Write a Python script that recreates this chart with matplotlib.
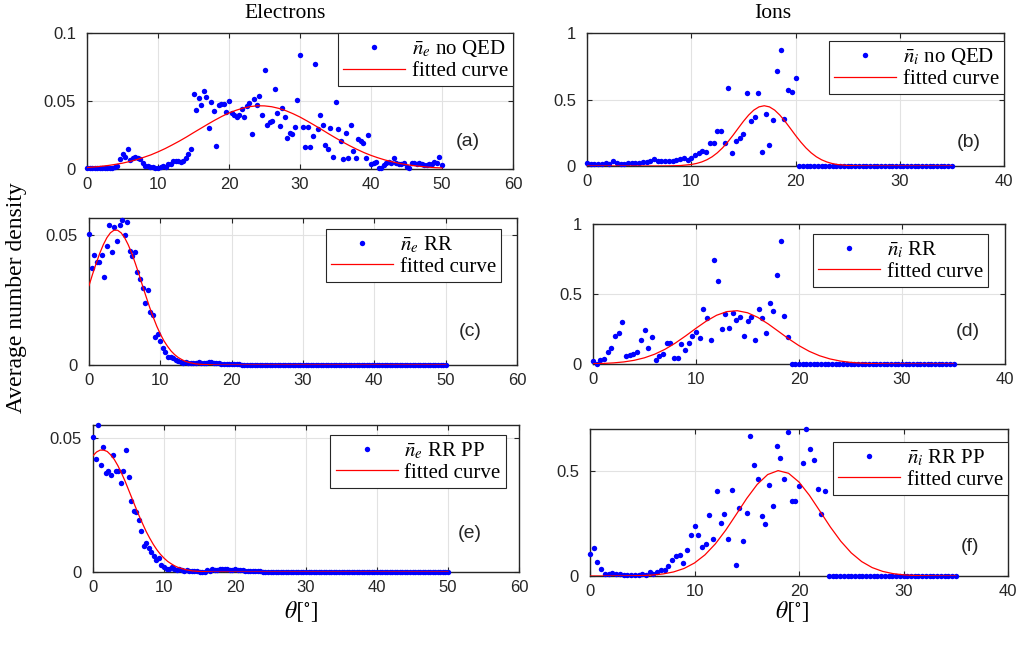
import numpy as np
import matplotlib
matplotlib.use('Agg')
import matplotlib.pyplot as plt

plt.rcParams['font.family'] = ['Liberation Sans', 'DejaVu Sans']
plt.rcParams['mathtext.fontset'] = 'stix'

# angular step of the binned data (deg)
step_e = 50 / 140
step_i = 35 / 98

# ---- electrons, no QED (a)
ne_noqed = [
    0.0008, 0.0006, 0.0005, 0.0007, 0.0006, 0.0005, 0.0008, 0.0007, 0.0008, 0.0009, 0.0008, 0.0012,
    0.0025, 0.0073, 0.0113, 0.0090, 0.0147, 0.0066, 0.0083, 0.0086, 0.0078, 0.0070,
    0.0047, 0.0022, 0.0022, 0.0012, 0.0017, 0.0005, 0.0010, 0.0017, 0.0022, 0.0017,
    0.0037, 0.0037, 0.0061, 0.0061, 0.0059, 0.0054, 0.0059, 0.0078,
    0.0108, 0.0145, 0.0549, 0.0431, 0.0522, 0.0473, 0.0571, 0.0532, 0.0304, 0.0495,
    0.0429, 0.0169, 0.0468, 0.0475, 0.0478, 0.0421, 0.0498, 0.0414, 0.0394, 0.0380,
    0.0394, 0.0439, 0.0380, 0.0463, 0.0483, 0.0257, 0.0512, 0.0470, 0.0537, 0.0397,
    0.0725, 0.0323, 0.0348, 0.0350, 0.0585, 0.0414, 0.0314, 0.0448, 0.0385, 0.0230,
    0.0267, 0.0255, 0.0311, 0.0507, 0.0840,
    0.0311, 0.0164, 0.0306, 0.0160, 0.0245, 0.0772, 0.0294, 0.0397, 0.0324, 0.0174,
    0.0145, 0.0299, 0.0088, 0.0495, 0.0292, 0.0208, 0.0071, 0.0267, 0.0083, 0.0321,
    0.0132, 0.0083, 0.0220, 0.0208, 0.0189, 0.0083, 0.0248,
    0.0037, 0.0042, 0.0055, 0.0010, 0.0005, 0.0030, 0.0042, 0.0054, 0.0042, 0.0083,
    0.0042, 0.0037, 0.0037, 0.0042, 0.0017, 0.0010, 0.0042, 0.0042, 0.0037, 0.0042,
    0.0037, 0.0033, 0.0033, 0.0037, 0.0037, 0.0054, 0.0042, 0.0086, 0.0029,
]
fit_a_x = list(range(0, 51))
fit_a_y = [
    0.0011, 0.0015, 0.0020, 0.0026, 0.0034, 0.0043, 0.0055, 0.0069, 0.0086, 0.0104,
    0.0126, 0.0150, 0.0177, 0.0205, 0.0235, 0.0267, 0.0298, 0.0329, 0.0359, 0.0387,
    0.0412, 0.0432, 0.0448, 0.0459, 0.0465, 0.0464, 0.0458, 0.0446, 0.0429, 0.0407,
    0.0382, 0.0353, 0.0323, 0.0292, 0.0260, 0.0229, 0.0199, 0.0171, 0.0145, 0.0121,
    0.0100, 0.0082, 0.0066, 0.0053, 0.0041, 0.0032, 0.0025, 0.0019, 0.0014, 0.0010,
    0.0008,
]

# ---- ions, no QED (b)
ni_noqed = [
    0.020, 0.015, 0.0125, 0.015, 0.015, 0.025, 0.0125, 0.040, 0.020, 0.015,
    0.015, 0.020, 0.020, 0.025, 0.025, 0.0325, 0.0325, 0.040, 0.050, 0.0375,
    0.0375, 0.0375, 0.035, 0.0375, 0.045, 0.050,
    0.060, 0.045, 0.0625, 0.0825, 0.100, 0.115, 0.1025, 0.175, 0.175, 0.265,
    0.265, 0.175, 0.5875, 0.0975, 0.1875, 0.2075, 0.24, 0.5525, 0.34, 0.3675,
    0.55, 0.1025, 0.3875, 0.155, 0.3425, 0.7175, 0.87, 0.35, 0.575, 0.555, 0.66,
    0, 0, 0, 0, 0, 0, 0, 0, 0, 0,
    0, 0, 0, 0, 0, 0, 0, 0, 0, 0,
    0, 0, 0, 0, 0, 0, 0, 0, 0, 0,
    0, 0, 0, 0, 0, 0, 0, 0, 0, 0,
    0, 0,
]
fit_b_x = [0, 4, 7, 8, 9, 10, 10.5, 11, 11.5, 12, 12.5, 13, 13.5, 14, 14.5, 15, 15.5, 16, 16.5,
           17, 17.5, 18, 18.5, 19, 19.5, 20, 20.5, 21, 21.5, 22, 22.5, 23, 23.5, 24,
           25, 26, 27, 30, 35]
fit_b_y = [0, 0, 0.0001, 0.001, 0.0037, 0.0114, 0.019, 0.0304, 0.0468, 0.0693, 0.0991,
           0.1363, 0.1806, 0.2304, 0.2834, 0.3356, 0.3826, 0.4203, 0.4446, 0.453, 0.4446,
           0.4203, 0.3826, 0.3356, 0.2834, 0.2304, 0.1806, 0.1363, 0.0991, 0.0693, 0.0468,
           0.0304, 0.019, 0.0114, 0.0037, 0.001, 0.0001, 0, 0]

# ---- electrons, RR (c)
ne_rr = [
    0.0503, 0.0374, 0.0423, 0.0397, 0.0395, 0.0421, 0.0340, 0.0459, 0.0538, 0.0436,
    0.0532, 0.0478, 0.0538, 0.0559, 0.0500, 0.0549, 0.0440, 0.0419, 0.0436, 0.0356,
    0.0331, 0.0297, 0.0237, 0.0290, 0.0203, 0.0192, 0.0108, 0.0119, 0.0094, 0.0064,
    0.0051, 0.0032, 0.0029, 0.0028, 0.0018, 0.0017, 0.0013, 0.0009, 0.0013, 0.0009,
    0.0008, 0.0009, 0.0006, 0.0010, 0.0006,
    0.0007, 0.0008, 0.0012, 0.0010, 0.0008, 0.0009, 0.0006, 0.0005, 0.0004, 0.0004,
    0.0003, 0.0003, 0.0002, 0.0002, 0.0002, 0.0001, 0.0001, 0.0001, 0.0001, 0.0001,
    0, 0, 0, 0, 0, 0, 0, 0, 0, 0,
    0, 0, 0, 0, 0, 0, 0, 0, 0, 0,
    0, 0, 0, 0, 0, 0, 0, 0, 0, 0,
    0, 0, 0, 0, 0, 0, 0, 0, 0, 0,
    0, 0, 0, 0, 0, 0, 0, 0, 0, 0,
    0, 0, 0, 0, 0, 0, 0, 0, 0, 0,
    0, 0, 0, 0, 0, 0, 0, 0, 0, 0,
    0, 0, 0, 0, 0, 0,
]
fit_c_x = [0, 0.5, 1, 1.5, 2, 2.5, 3, 3.5, 4, 4.5, 5, 5.5, 6, 6.5, 7, 7.5, 8, 8.5, 9, 9.5,
           10, 10.5, 11, 11.5, 12, 12.5, 13, 13.5, 14, 15, 16, 17, 18, 50]
fit_c_y = [0.0305, 0.0349, 0.0390, 0.0429, 0.0462, 0.0489, 0.0508, 0.0518, 0.0518, 0.0508,
           0.0489, 0.0462, 0.0429, 0.0390, 0.0349, 0.0305, 0.0263, 0.0222, 0.0184, 0.0149,
           0.0119, 0.0093, 0.0072, 0.0054, 0.0040, 0.0029, 0.0021, 0.0014, 0.0010, 0.0004,
           0.0002, 0.0001, 0, 0]

# ---- ions, RR (d)
ni_rr = [
    0.0214, 0.0024, 0.031, 0.038, 0.0857, 0.1167, 0.2, 0.2214, 0.2976, 0.06,
    0.0643, 0.0738, 0.0857, 0.1738, 0.2429, 0.1143, 0.1952, 0.0262, 0.0548, 0.0714,
    0.1524, 0.1524, 0.0452, 0.0452, 0.1429, 0.1, 0.1476, 0.2, 0.231, 0.1881,
    0.3929, 0.3286, 0.1714, 0.7429, 0.5952, 0.2524, 0.3571, 0.2548, 0.3619, 0.3167,
    0.3357, 0.2, 0.3048, 0.3357, 0.169, 0.3929, 0.3286, 0.2238, 0.4381, 0.381,
    0.6333, 0.8762, 0.3452, 0.1952,
    0, 0, 0, 0, 0, 0, 0, 0, 0, 0,
    0, 0, 0, 0, 0, 0, 0, 0, 0, 0,
    0, 0, 0, 0, 0, 0, 0, 0, 0, 0,
    0, 0, 0, 0, 0, 0, 0, 0, 0, 0,
    0, 0, 0, 0, 0,
]
fit_d_x = list(range(0, 36))
fit_d_y = [0.0019, 0.0040, 0.0080, 0.0149, 0.0264, 0.0443, 0.0703, 0.1055, 0.1497, 0.2009,
           0.2552, 0.3064, 0.3482, 0.3743, 0.3806, 0.3661, 0.3331, 0.2867, 0.2334, 0.1798,
           0.1310, 0.0903, 0.0589, 0.0363, 0.0212, 0.0117, 0.0061, 0.0030, 0.0014, 0.0006,
           0.0002, 0.0001, 0, 0, 0, 0]

# ---- electrons, RR + PP (e)
ne_rrpp = [
    0.0504, 0.0423, 0.0550, 0.0400, 0.0466, 0.0369, 0.0377, 0.0364, 0.0438, 0.0379,
    0.0377, 0.0333, 0.0379, 0.0456, 0.0357, 0.0264, 0.0230, 0.0224, 0.0193, 0.0155,
    0.0097, 0.0109, 0.0091, 0.0075, 0.0060, 0.0046, 0.0051, 0.0025, 0.0019, 0.0010,
    0.0010, 0.0019, 0.0010, 0.0006, 0.0010, 0.0006, 0.0004, 0.0009, 0.0002, 0.0004,
    0.0002, 0.0004, 0, 0, 0.0001, 0.0006, 0.0004, 0.0011,
    0.0008, 0.0009, 0.0011, 0.0012, 0.0010, 0.0011, 0.0009, 0.0008, 0.0010, 0.0007,
    0.0006, 0.0008, 0.0005, 0.0004, 0.0003,
    0.0002, 0.0002, 0.0002, 0.0002, 0.0001, 0.0001, 0.0001, 0.0001, 0.0001, 0.0001,
    0, 0, 0, 0, 0, 0, 0, 0, 0, 0,
    0, 0, 0, 0, 0, 0, 0, 0, 0, 0,
    0, 0, 0, 0, 0, 0, 0, 0, 0, 0,
    0, 0, 0, 0, 0, 0, 0, 0, 0, 0,
    0, 0, 0, 0, 0, 0, 0, 0, 0, 0,
    0, 0, 0, 0, 0, 0, 0, 0, 0, 0,
    0, 0, 0, 0, 0, 0, 0, 0,
]
fit_e_x = [0, 0.5, 1, 1.5, 2, 2.5, 3, 3.5, 4, 4.5, 5, 5.5, 6, 6.5, 7, 7.5, 8, 8.5, 9, 9.5,
           10, 10.5, 11, 11.5, 12, 13, 14, 15, 16, 17, 50]
fit_e_y = [0.0435, 0.0449, 0.0456, 0.0456, 0.0451, 0.0438, 0.0421, 0.0398, 0.0371, 0.0341,
           0.0308, 0.0275, 0.0242, 0.0210, 0.0180, 0.0151, 0.0126, 0.0103, 0.0083, 0.0066,
           0.0052, 0.0040, 0.0031, 0.0023, 0.0017, 0.0009, 0.0004, 0.0002, 0.0001, 0, 0]

# ---- ions, RR + PP (f)
ni_rrpp = [
    0.1048, 0.1333, 0.0651, 0.0317, 0.0111, 0.0111, 0.0127, 0.0111, 0.0095, 0.0048,
    0.0032, 0.0032, 0.0032, 0.0063, 0.0111, 0.0048, 0.0175, 0.0095, 0.0190, 0.0286,
    0.0270, 0.0492, 0.0746, 0.0937, 0.1016, 0.0635, 0.1222, 0.1968, 0.2397, 0.1937,
    0.1365, 0.1524, 0.2889, 0.1746, 0.4032, 0.2540, 0.2937, 0.1762, 0.4095, 0.0540,
    0.3238, 0.1651, 0.2984, 0.6667, 0.5286, 0.4619, 0.2873, 0.2460, 0.4349, 0.3349,
    0.6206, 0.5635, 0.4619, 0.6857, 0.3587, 0.3587, 0.4302, 0.5365, 0.7, 0.6032,
    0.551, 0.416, 0.295, 0.406,
    0, 0, 0, 0, 0, 0, 0, 0, 0, 0,
    0, 0, 0, 0, 0, 0, 0, 0, 0, 0,
    0, 0, 0, 0, 0, 0, 0, 0, 0, 0,
    0, 0, 0, 0, 0,
]
fit_f_x = list(range(0, 36))
fit_f_y = [0, 0, 0.0001, 0.0003, 0.0009, 0.0021, 0.0047, 0.0099, 0.0194, 0.0358,
           0.0620, 0.1006, 0.1532, 0.2190, 0.2937, 0.3695, 0.4361, 0.4830, 0.5018, 0.4892,
           0.4474, 0.3839, 0.3091, 0.2334, 0.1655, 0.1100, 0.0686, 0.0401, 0.0220, 0.0113,
           0.0055, 0.0025, 0.0011, 0.0004, 0.0002, 0.0001]

W, H = 1022, 645
fig = plt.figure(figsize=(W / 100, H / 100), dpi=100)

ink = '#262626'
serif = ['Liberation Serif', 'DejaVu Serif']

# panel setup: rect in pixels (left, top, right, bottom), data, fit, limits, legend anchor, label pos
panels = [
    dict(rect=(87, 33, 513, 169), y=ne_noqed, step=step_e, fx=fit_a_x, fy=fit_a_y,
         label=r'$\bar{n}_e$ no QED', xmax=60, ytop=0.1,
         yt=[0, 0.05, 0.1], ytl=['0', '0.05', '0.1'], leg=(1.0, 1.0), tag='(a)', tagpos=(0.895, 0.2)),
    dict(rect=(587, 33, 1004, 166), y=ni_noqed, step=step_i, fx=fit_b_x, fy=fit_b_y,
         label=r'$\bar{n}_i$ no QED', xmax=40, ytop=1.0,
         yt=[0, 0.5, 1], ytl=['0', '0.5', '1'], leg=(1.0, 0.94), tag='(b)', tagpos=(0.915, 0.18)),
    dict(rect=(89, 218, 517, 365), y=ne_rr, step=step_e, fx=fit_c_x, fy=fit_c_y,
         label=r'$\bar{n}_e$ RR', xmax=60, ytop=0.0565,
         yt=[0, 0.05], ytl=['0', '0.05'], leg=(0.963, 0.925), tag='(c)', tagpos=(0.89, 0.23)),
    dict(rect=(593, 224, 1005, 364), y=ni_rr, step=step_i, fx=fit_d_x, fy=fit_d_y,
         label=r'$\bar{n}_i$ RR', xmax=40, ytop=1.0,
         yt=[0, 0.5, 1], ytl=['0', '0.5', '1'], leg=(0.959, 0.929), tag='(d)', tagpos=(0.91, 0.235)),
    dict(rect=(93, 425, 519, 572), y=ne_rrpp, step=step_e, fx=fit_e_x, fy=fit_e_y,
         label=r'$\bar{n}_e$ RR PP', xmax=60, ytop=0.055,
         yt=[0, 0.05], ytl=['0', '0.05'], leg=(0.969, 0.932), tag='(e)', tagpos=(0.885, 0.265)),
    dict(rect=(590, 429, 1008, 576), y=ni_rrpp, step=step_i, fx=fit_f_x, fy=fit_f_y,
         label=r'$\bar{n}_i$ RR PP', xmax=40, ytop=0.7,
         yt=[0, 0.5], ytl=['0', '0.5'], leg=(1.0, 0.912), tag='(f)', tagpos=(0.91, 0.2)),
]

for p in panels:
    l, t, r, b = p['rect']
    ax = fig.add_axes([l / W, 1 - b / H, (r - l) / W, (b - t) / H])
    theta = np.arange(len(p['y'])) * p['step']
    ax.plot(theta, p['y'], 'o', color='blue', ms=3.9, mec='none', clip_on=False,
            zorder=3, label=p['label'])
    ax.plot(p['fx'], p['fy'], '-', color='red', lw=0.9, zorder=4, label='fitted curve')

    ax.set_xlim(0, p['xmax'])
    ax.set_ylim(0, p['ytop'])
    ax.set_xticks(np.arange(0, p['xmax'] + 1, 10))
    ax.set_yticks(p['yt'])
    ax.set_yticklabels(p['ytl'])
    ax.grid(True, color='#e2e2e2', lw=0.8)
    ax.set_axisbelow(True)
    ax.tick_params(direction='in', top=True, right=True, length=3.5, width=0.8,
                   color=ink, labelcolor=ink, labelsize=12)
    ax.tick_params(axis='y', pad=8)
    ax.tick_params(axis='x', pad=6)
    for s in ax.spines.values():
        s.set_color(ink)
        s.set_linewidth(1.0)

    leg = ax.legend(loc='upper right', bbox_to_anchor=p['leg'], borderaxespad=0,
                    fancybox=False, framealpha=1, edgecolor=ink, numpoints=1,
                    prop={'family': serif, 'size': 15}, handlelength=3.0,
                    handletextpad=0.3, borderpad=0.25, labelspacing=0.1)
    leg.get_frame().set_linewidth(0.8)

    ax.text(p['tagpos'][0], p['tagpos'][1], p['tag'], transform=ax.transAxes,
            fontsize=14, ha='center', va='center', color=ink)

# column titles and shared labels
fig.text(285 / W, 1 - 14 / H, 'Electrons', ha='center', va='center', family=serif, fontsize=15.5)
fig.text(773 / W, 1 - 14 / H, 'Ions', ha='center', va='center', family=serif, fontsize=15.5)
fig.text(17 / W, 1 - 298 / H, 'Average number density', rotation=90, ha='center',
         va='center', family=serif, fontsize=17)
fig.text(301 / W, 1 - 612 / H, r'$\theta[^{\circ}]$', ha='center', va='center', fontsize=17)
fig.text(792 / W, 1 - 612 / H, r'$\theta[^{\circ}]$', ha='center', va='center', fontsize=17)

fig.savefig('out.png', dpi=100, facecolor='white')
